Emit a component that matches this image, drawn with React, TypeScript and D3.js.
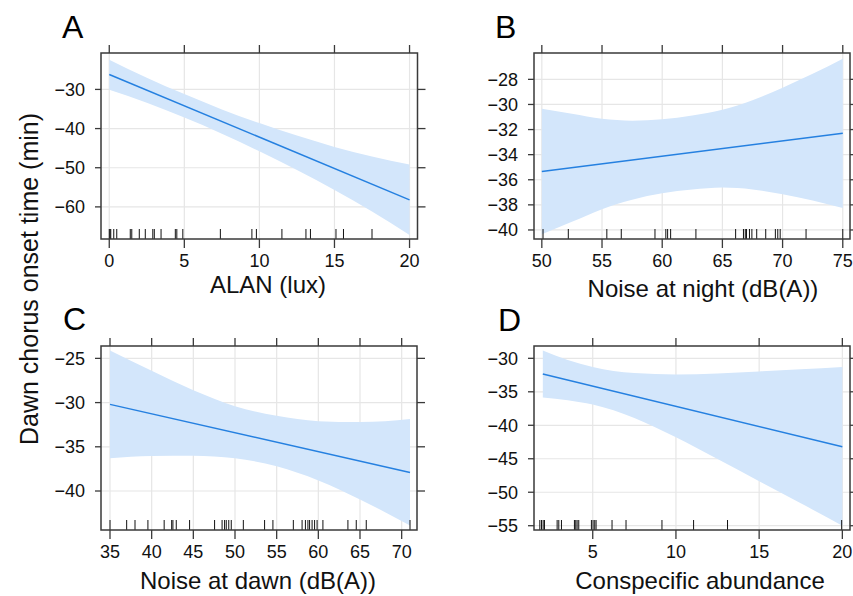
import React from "react";
import * as d3 from "d3";

const FONT = "'Liberation Sans', Arial, Helvetica, sans-serif";
const width = 853;
const height = 596;

// A: ALAN
const alanFitX = [0, 20];
const alanFitY = [-26.2, -58.2];
const alanBandX = [0, 2.5, 5, 7.5, 10, 12.5, 15, 17.5, 20];
const alanUpper = [-22.4, -27.0, -31.2, -35.1, -38.6, -41.8, -44.7, -47.1, -49.2];
const alanLower = [-30.1, -33.4, -37.2, -41.3, -45.8, -50.6, -55.7, -61.2, -67.2];
const alanRug = [0, 0.05, 0.1, 0.3, 0.5, 1.4, 1.5, 2.0, 2.4, 2.9, 3.0, 3.45, 4.4, 4.5, 4.9, 7.4, 9.5, 9.8, 11.5, 13.1, 13.4, 15.1, 15.6, 17.5];
const alanXTicks = [0, 5, 10, 15, 20];
const alanYTicks = [-30, -40, -50, -60];

// B: noise at night
const nightFitX = [50, 75];
const nightFitY = [-35.35, -32.3];
const nightBandX = [50, 52.5, 55, 57.5, 60, 62.5, 65, 67.5, 70, 72.5, 75];
const nightUpper = [-30.35, -30.75, -31.14, -31.29, -31.18, -30.88, -30.42, -29.67, -28.66, -27.55, -26.35];
const nightLower = [-40.35, -39.35, -38.34, -37.59, -37.08, -36.78, -36.62, -36.77, -37.16, -37.65, -38.25];
const nightRug = [50.1, 52.2, 55.4, 56.6, 59.4, 60.3, 60.45, 60.7, 62.8, 66.1, 66.75, 66.9, 67.0, 67.25, 67.45, 67.85, 68.6, 69.4, 69.6, 69.8, 71.95, 75];
const nightXTicks = [50, 55, 60, 65, 70, 75];
const nightYTicks = [-28, -30, -32, -34, -36, -38, -40];

// C: noise at dawn
const dawnFitX = [35, 71];
const dawnFitY = [-30.2, -37.9];
const dawnBandX = [35, 40, 45, 50, 55, 60, 65, 71];
const dawnUpper = [-24.1, -26.4, -28.6, -30.4, -31.5, -32.1, -32.2, -31.85];
const dawnLower = [-36.3, -36.05, -36.0, -36.3, -37.2, -38.8, -40.95, -43.9];
const dawnRug = [35, 37, 38, 39.55, 41.5, 42.4, 42.55, 42.95, 44.55, 47.55, 48.45, 48.75, 48.95, 49.25, 49.55, 51.0, 53.55, 54.55, 57.0, 58.05, 58.45, 58.75, 58.95, 59.25, 59.55, 59.85, 60.55, 63.55, 64.55, 65.75, 71];
const dawnXTicks = [35, 40, 45, 50, 55, 60, 65, 70];
const dawnYTicks = [-25, -30, -35, -40];

// D: conspecific abundance
const abundFitX = [2, 20];
const abundFitY = [-32.35, -43.2];
const abundBandX = [2, 3.5, 5, 7.5, 10, 12.5, 15, 17.5, 20];
const abundUpper = [-28.85, -30.25, -31.3, -32.2, -32.4, -32.25, -31.95, -31.65, -31.3];
const abundLower = [-35.85, -36.25, -36.9, -38.9, -41.8, -45.05, -48.35, -51.65, -55.0];
const abundRug = [1.82, 1.92, 2.02, 2.1, 2.86, 2.96, 3.12, 3.9, 3.98, 4.06, 4.16, 4.92, 5.02, 5.12, 5.2, 6.16, 7.0, 9.16, 11.06, 13.1, 19.96];
const abundXTicks = [5, 10, 15, 20];
const abundYTicks = [-30, -35, -40, -45, -50, -55];

const panels = [
  {
    letter: "A", letterPos: [62, 38],
    xlab: "ALAN (lux)", xlabPos: [268, 293],
    box: { x0: 101, x1: 417.5, y0: 53, y1: 239 },
    xDomain: [-0.55, 20.53], yDomain: [-68.2, -20.7],
    fitX: alanFitX, fitY: alanFitY,
    bandX: alanBandX, upper: alanUpper, lower: alanLower,
    rug: alanRug, xTicks: alanXTicks, yTicks: alanYTicks,
  },
  {
    letter: "B", letterPos: [495, 38],
    xlab: "Noise at night (dB(A))", xlabPos: [703, 297],
    box: { x0: 534, x1: 850, y0: 53, y1: 239 },
    xDomain: [49.35, 75.6], yDomain: [-40.72, -25.9],
    fitX: nightFitX, fitY: nightFitY,
    bandX: nightBandX, upper: nightUpper, lower: nightLower,
    rug: nightRug, xTicks: nightXTicks, yTicks: nightYTicks,
  },
  {
    letter: "C", letterPos: [63, 330],
    xlab: "Noise at dawn (dB(A))", xlabPos: [258, 589],
    box: { x0: 101, x1: 417, y0: 346, y1: 530 },
    xDomain: [33.92, 71.84], yDomain: [-44.41, -23.6],
    fitX: dawnFitX, fitY: dawnFitY,
    bandX: dawnBandX, upper: dawnUpper, lower: dawnLower,
    rug: dawnRug, xTicks: dawnXTicks, yTicks: dawnYTicks,
  },
  {
    letter: "D", letterPos: [498, 331],
    xlab: "Conspecific abundance", xlabPos: [700, 589],
    box: { x0: 534, x1: 850, y0: 346, y1: 530 },
    xDomain: [1.47, 20.46], yDomain: [-55.64, -28.16],
    fitX: abundFitX, fitY: abundFitY,
    bandX: abundBandX, upper: abundUpper, lower: abundLower,
    rug: abundRug, xTicks: abundXTicks, yTicks: abundYTicks,
  },
];

const fmt = (v: number) => String(v).replace("-", "\u2212");

function Panel({ p }: { p: any }) {
  const { box } = p;
  const x = d3.scaleLinear().domain(p.xDomain).range([box.x0, box.x1]);
  const y = d3.scaleLinear().domain(p.yDomain).range([box.y1, box.y0]);

  const band = d3
    .area<number>()
    .x((d) => x(d))
    .y0((d, i) => y(p.lower[i]))
    .y1((d, i) => y(p.upper[i]))
    .curve(d3.curveMonotoneX);

  const fit = d3
    .line<number>()
    .x((d) => x(d))
    .y((d, i) => y(p.fitY[i]));

  const axisColor = "#3a3a3a";

  return (
    <g>
      {/* grid */}
      {p.xTicks.map((t: number) => (
        <line key={"gx" + t} x1={x(t)} x2={x(t)} y1={box.y0} y2={box.y1} stroke="#e6e6e6" strokeWidth={1.2} />
      ))}
      {p.yTicks.map((t: number) => (
        <line key={"gy" + t} x1={box.x0} x2={box.x1} y1={y(t)} y2={y(t)} stroke="#e6e6e6" strokeWidth={1.2} />
      ))}

      <path d={band(p.bandX) || ""} fill="#d3e6fb" stroke="none" />
      <path d={fit(p.fitX) || ""} fill="none" stroke="#2580e0" strokeWidth={1.5} />

      {/* rug */}
      {p.rug.map((r: number, i: number) => (
        <line key={"r" + i} x1={x(r)} x2={x(r)} y1={box.y1} y2={box.y1 - 10} stroke="#111" strokeWidth={1} />
      ))}

      <rect x={box.x0} y={box.y0} width={box.x1 - box.x0} height={box.y1 - box.y0} fill="none" stroke={axisColor} strokeWidth={1.5} />

      {/* x ticks top & bottom */}
      {p.xTicks.map((t: number) => (
        <g key={"xt" + t}>
          <line x1={x(t)} x2={x(t)} y1={box.y0} y2={box.y0 - 8} stroke={axisColor} strokeWidth={1.3} />
          <line x1={x(t)} x2={x(t)} y1={box.y1} y2={box.y1 + 9} stroke={axisColor} strokeWidth={1.3} />
          <text x={x(t)} y={box.y1 + 28} textAnchor="middle" fontFamily={FONT} fontSize={18} fill="#111">
            {fmt(t)}
          </text>
        </g>
      ))}

      {/* y ticks left & right */}
      {p.yTicks.map((t: number) => (
        <g key={"yt" + t}>
          <line x1={box.x0} x2={box.x0 - 6} y1={y(t)} y2={y(t)} stroke={axisColor} strokeWidth={1.3} />
          <line x1={box.x1} x2={box.x1 + 8} y1={y(t)} y2={y(t)} stroke={axisColor} strokeWidth={1.3} />
          <text x={box.x0 - 16} y={y(t)} dy="0.36em" textAnchor="end" fontFamily={FONT} fontSize={18} fill="#111">
            {fmt(t)}
          </text>
        </g>
      ))}

      <text x={p.letterPos[0]} y={p.letterPos[1]} fontFamily={FONT} fontSize={32} fill="#000">
        {p.letter}
      </text>
      <text x={p.xlabPos[0]} y={p.xlabPos[1]} textAnchor="middle" fontFamily={FONT} fontSize={24} fill="#111">
        {p.xlab}
      </text>
    </g>
  );
}

export default function App() {
  return (
    <svg
      width={width}
      height={height}
      style={{ position: "absolute", left: 0, top: 0, display: "block", background: "#fff" }}
    >
      <rect x={0} y={0} width={width} height={height} fill="#fff" />
      {panels.map((p) => (
        <Panel key={p.letter} p={p} />
      ))}
      <text
        transform="translate(38,279) rotate(-90)"
        textAnchor="middle"
        fontFamily={FONT}
        fontSize={25}
        fill="#111"
      >
        Dawn chorus onset time (min)
      </text>
    </svg>
  );
}
